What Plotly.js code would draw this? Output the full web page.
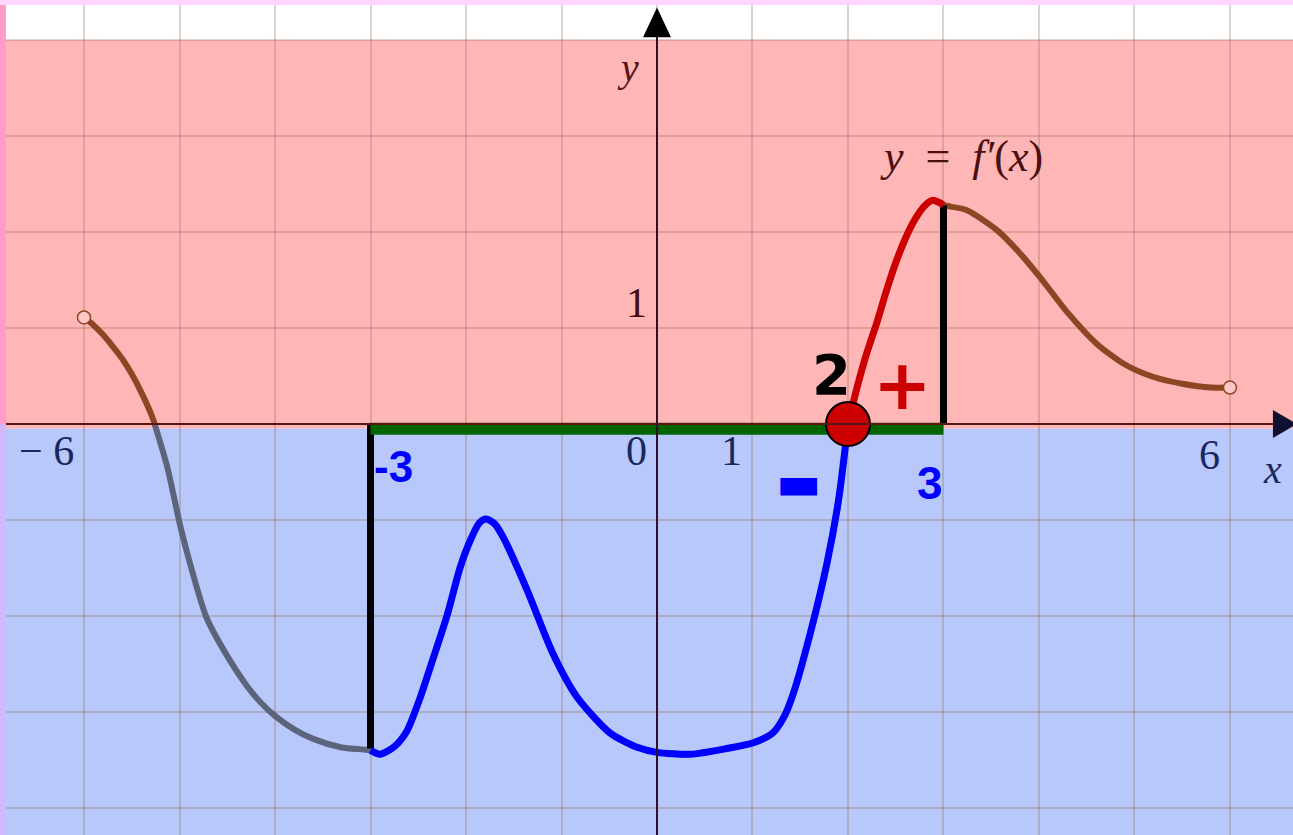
<!DOCTYPE html>
<html>
<head>
<meta charset="utf-8">
<script src="https://cdn.plot.ly/plotly-3.0.1.min.js"></script>
<style>
    html, body { margin: 0; padding: 0; background: #ffd6ff; }
    #plot01 { width: 1293px; height: 835px; }
</style>
</head>
<body>
<div id="plot01"></div>
<script>
// graph of y = f'(x)
const curveX = [-6.0, -5.9, -5.8, -5.7, -5.6, -5.5, -5.4, -5.3, -5.26, -5.13, -4.99, -4.86, -4.72, -4.54,
    -4.30, -4.15, -4.0, -3.8, -3.6, -3.3,
    -3.0, -2.9, -2.75, -2.62, -2.48, -2.35, -2.2, -2.06, -1.95, -1.86, -1.79, -1.70, -1.61, -1.36, -1.09, -0.84,
    -0.49, -0.2, 0.0, 0.35, 0.73, 1.01, 1.21, 1.33, 1.43, 1.60, 1.78, 1.9, 2.0,
    2.1, 2.2, 2.3, 2.4, 2.5, 2.6, 2.7, 2.8, 2.88, 2.95, 3.0,
    3.24, 3.56, 3.80, 4.01, 4.3, 4.6, 4.9, 5.2, 5.5, 5.8, 6.0];
const curveY = [1.11, 1.03, 0.93, 0.81, 0.68, 0.52, 0.33, 0.11, 0, -0.44, -1.07, -1.56, -2.01, -2.35,
    -2.72, -2.90, -3.04, -3.18, -3.28, -3.37,
    -3.40, -3.44, -3.36, -3.2, -2.85, -2.46, -2.0, -1.49, -1.2, -1.03, -0.99, -1.04, -1.18, -1.73, -2.39, -2.84,
    -3.22, -3.37, -3.42, -3.44, -3.38, -3.32, -3.22, -3.05, -2.80, -2.20, -1.45, -0.80, 0,
    0.40, 0.75, 1.05, 1.38, 1.68, 1.93, 2.13, 2.27, 2.33, 2.31, 2.28,
    2.23, 2.02, 1.78, 1.53, 1.16, 0.84, 0.62, 0.49, 0.42, 0.38, 0.38];

// open end points of the graph
const endX = [-6, 6];
const endY = [1.11, 0.38];

// the interval [-3; 3] and f'(x) at its ends
const intervalX = [-3, 3];
const intervalY = [-3.38, 2.28];

// zero of f' inside the interval
const zeroX = [2];
const zeroY = [0];

// tick labels
const xTickVals = [-6, 0, 1, 6];
const xTickText = ['\u2212 6', '0', '1', '6'];
const yTickVals = [1];
const yTickText = ['1'];

const xRange = [-6.817, 6.66];
const yRange = [-4.281, 4.365];

function pick(x0, x1) {
    const xs = [], ys = [];
    curveX.forEach((x, i) => {
        if (x >= x0 && x <= x1) { xs.push(x); ys.push(curveY[i]); }
    });
    return {x: xs, y: ys};
}

// pieces of the curve above (sign 1) or below (sign -1) the x axis
function runs(sign) {
    const out = [];
    let cur = null;
    curveX.forEach((x, i) => {
        const y = curveY[i];
        if (sign * y >= 0) {
            if (!cur) { cur = {x: [], y: []}; out.push(cur); }
            cur.x.push(x); cur.y.push(y);
        } else {
            cur = null;
        }
    });
    return out;
}

function initPlot() {
    const data = [];

    runs(1).forEach(r => data.push({
        type: 'scatter', mode: 'lines', x: r.x, y: r.y,
        line: {color: '#8e4524', width: 6, shape: 'spline', smoothing: 0.7},
        hoverinfo: 'skip'
    }));
    runs(-1).forEach(r => data.push({
        type: 'scatter', mode: 'lines', x: r.x, y: r.y,
        line: {color: '#5c647c', width: 6, shape: 'spline', smoothing: 0.7},
        hoverinfo: 'skip'
    }));

    data.push({
        type: 'scatter', mode: 'markers', x: endX, y: endY,
        marker: {size: 13, color: '#ffc6c6', line: {color: '#8e4524', width: 1.5}},
        hoverinfo: 'skip'
    });

    // vertical segments at the ends of the interval
    intervalX.forEach((x, i) => data.push({
        type: 'scatter', mode: 'lines', x: [x, x], y: [0, intervalY[i]],
        line: {color: '#000000', width: 7},
        hoverinfo: 'skip'
    }));

    // the interval itself on the x axis
    data.push({
        type: 'scatter', mode: 'lines', x: intervalX, y: [-0.05, -0.05],
        line: {color: '#006400', width: 12},
        hoverinfo: 'skip'
    });

    const neg = pick(intervalX[0], zeroX[0]);
    data.push({
        type: 'scatter', mode: 'lines', x: neg.x, y: neg.y,
        line: {color: '#0000ff', width: 7, shape: 'spline', smoothing: 0.7},
        hoverinfo: 'skip'
    });
    const pos = pick(zeroX[0], intervalX[1]);
    data.push({
        type: 'scatter', mode: 'lines', x: pos.x, y: pos.y,
        line: {color: '#cc0000', width: 7, shape: 'spline', smoothing: 0.7},
        hoverinfo: 'skip'
    });

    data.push({
        type: 'scatter', mode: 'markers', x: zeroX, y: zeroY,
        marker: {size: 44, color: '#cc0000', line: {color: '#000000', width: 2}},
        hoverinfo: 'skip'
    });

    const yZero = (0 - yRange[0]) / (yRange[1] - yRange[0]);

    const shapes = [
        {type: 'rect', layer: 'below', xref: 'x', yref: 'y', x0: -7, x1: 7, y0: -0.05, y1: 4,
            fillcolor: '#ffb6b6', line: {width: 0}},
        {type: 'rect', layer: 'below', xref: 'x', yref: 'y', x0: -7, x1: 7, y0: -4.4, y1: -0.05,
            fillcolor: '#b8c8fa', line: {width: 0}},
        {type: 'rect', xref: 'paper', yref: 'paper', x0: -0.006, x1: 0, y0: yZero, y1: 1,
            fillcolor: '#ff9ccc', line: {width: 0}},
        {type: 'rect', xref: 'paper', yref: 'paper', x0: -0.006, x1: 0, y0: 0, y1: yZero,
            fillcolor: '#d4b8ff', line: {width: 0}},
        // axes
        {type: 'line', xref: 'x', yref: 'y', x0: -7, x1: 6.5, y0: 0, y1: 0,
            line: {color: '#5a1515', width: 2}},
        {type: 'line', xref: 'x', yref: 'y', x0: 0, x1: 0, y0: -4.4, y1: 4.05,
            line: {color: '#30102a', width: 2}},
        {type: 'path', xref: 'x', yref: 'y', path: 'M -0.146,4.03 L 0.146,4.03 L 0,4.34 Z',
            fillcolor: '#000000', line: {width: 0}},
        {type: 'path', xref: 'x', yref: 'y', path: 'M 6.45,-0.145 L 6.45,0.145 L 6.7,0 Z',
            fillcolor: '#101030', line: {width: 0}},
    ];

    const serif = 'Liberation Serif';
    const annotations = [];
    xTickVals.forEach((v, i) => annotations.push({
        x: v, y: 0, xref: 'x', yref: 'y', text: xTickText[i], showarrow: false,
        xanchor: 'right', yanchor: 'top', xshift: -8, yshift: v === 6 ? -6 : -2,
        font: {family: serif, size: 42, color: '#1a2660'}
    }));
    yTickVals.forEach((v, i) => annotations.push({
        x: 0, y: v, xref: 'x', yref: 'y', text: yTickText[i], showarrow: false,
        xanchor: 'right', yanchor: 'bottom', xshift: -8, yshift: 0,
        font: {family: serif, size: 42, color: '#4a0a0a'}
    }));

    annotations.push(
        {x: -0.30, y: 3.71, text: '<i>y</i>', showarrow: false,
            font: {family: serif, size: 40, color: '#5a1515'}},
        {x: 6.45, y: -0.47, text: '<i>x</i>', showarrow: false,
            font: {family: serif, size: 40, color: '#1a2660'}},
        {x: 3.19, y: 2.79, text: '<i>y</i>\u2002=\u2002<i>f\u2032</i>(<i>x</i>)', showarrow: false,
            font: {family: serif, size: 44, color: '#4a1010'}},
        {x: 1.83, y: 0.52, text: '<b>2</b>', showarrow: false,
            font: {family: 'DejaVu Sans', size: 56, color: '#000000'}},
        {x: 2.57, y: 0.41, text: '<b>+</b>', showarrow: false,
            font: {family: 'DejaVu Sans', size: 70, color: '#cc0000'}},
        {x: 1.48, y: -0.60, text: '\u25AC', showarrow: false,
            font: {family: 'DejaVu Sans', size: 48, color: '#0000ff'}},
        {x: -2.76, y: -0.44, text: '<b>-3</b>', showarrow: false,
            font: {family: 'Liberation Sans', size: 44, color: '#0000ff'}},
        {x: 2.86, y: -0.61, text: '<b>3</b>', showarrow: false,
            font: {family: 'Liberation Sans', size: 46, color: '#0000ff'}}
    );

    const axisBase = {
        showgrid: true,
        gridcolor: 'rgba(150, 110, 80, 0.3)',
        gridwidth: 2,
        dtick: 1,
        tick0: 0,
        zeroline: false,
        showticklabels: false,
        ticks: '',
        showline: false,
        fixedrange: true,
    };

    const layout = {
        width: 1293,
        height: 835,
        margin: {l: 6, r: 0, t: 5, b: 0},
        paper_bgcolor: '#ffd6ff',
        plot_bgcolor: '#ffffff',
        showlegend: false,
        xaxis: Object.assign({}, axisBase, {range: xRange}),
        yaxis: Object.assign({}, axisBase, {range: yRange}),
        shapes: shapes,
        annotations: annotations,
    };

    const config = {
        displayModeBar: false,
        responsive: false,
        staticPlot: true,
    };

    Plotly.newPlot('plot01', data, layout, config);
}

window.addEventListener('load', () => {
    initPlot();
});
</script>
</body>
</html>
